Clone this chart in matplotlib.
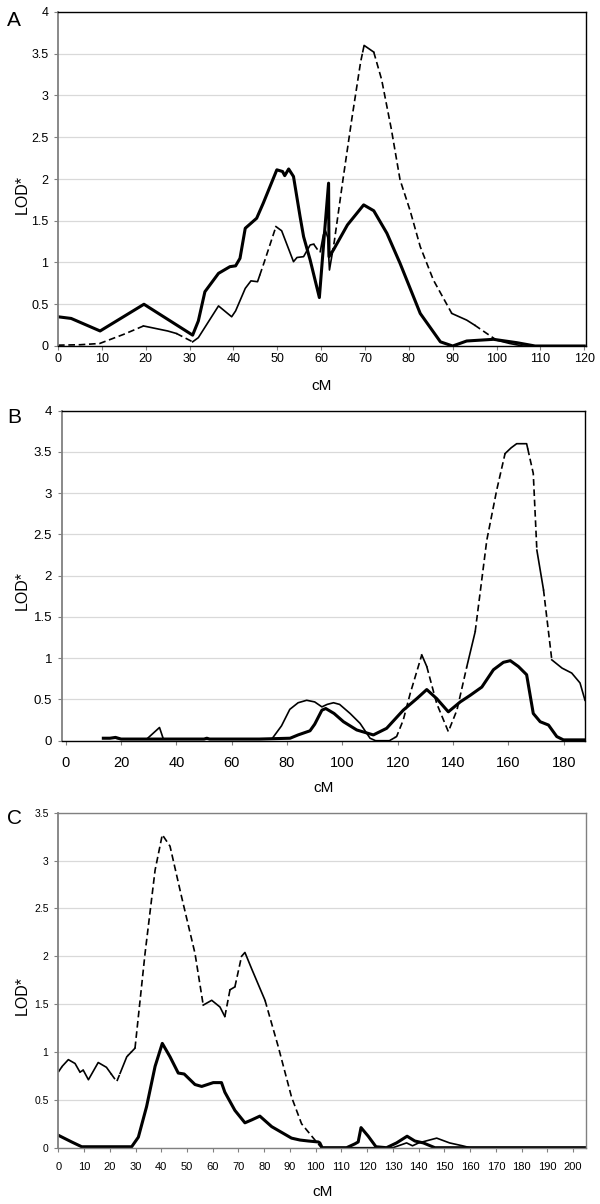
import numpy as np
import matplotlib
matplotlib.use("Agg")
import matplotlib.pyplot as plt
from matplotlib.ticker import FuncFormatter

plt.rcParams['font.family'] = ['Liberation Sans', 'DejaVu Sans']

# Panel A
a_thick_cm = [0, 3, 9.6, 19.6, 25, 30.7, 32, 33.5, 36.6, 39.2,
              40.5, 41.5, 42.7, 45.3, 46.8, 49.9, 51.2, 51.7, 52.6, 53.7,
              55.2, 56, 57.5, 59.6, 60.7, 61.7, 61.8, 62.8, 66, 69.7,
              72, 75, 78, 82.6, 87.2, 90, 93.2, 99.3, 104.6, 108.8, 120]
a_thick_lod = [0.35, 0.33, 0.18, 0.50, 0.32, 0.13, 0.3, 0.65, 0.87, 0.95,
               0.96, 1.05, 1.41, 1.53, 1.71, 2.11, 2.09, 2.04, 2.12, 2.03,
               1.55, 1.31, 1.03, 0.58, 1.31, 1.95, 1.07, 1.15, 1.45, 1.69,
               1.62, 1.35, 0.99, 0.39, 0.05, 0.0, 0.06, 0.08, 0.04, 0.0, 0.0]
a_thin_cm = [0, 5, 9.5, 15, 19.5, 25, 27, 30.7, 32, 36.6,
             39.6, 40.5, 42.7, 44, 45.5, 47, 49.7, 51, 53.7, 54.5,
             56, 57.5, 58.3, 59.1, 59.8, 60.5, 61, 61.5, 61.9, 63,
             65, 67, 69, 69.8, 72, 73.8, 76, 78, 80.3, 82.6,
             85.6, 89.8, 93.2, 95, 100, 103, 106, 120]
a_thin_lod = [0.01, 0.015, 0.03, 0.14, 0.24, 0.18, 0.15, 0.05, 0.1, 0.48,
              0.35, 0.42, 0.69, 0.78, 0.77, 1.0, 1.43, 1.38, 1.01, 1.06,
              1.07, 1.21, 1.22, 1.16, 1.13, 1.33, 1.38, 1.3, 0.91, 1.25,
              2.0, 2.72, 3.4, 3.6, 3.52, 3.19, 2.6, 1.99, 1.62, 1.19,
              0.79, 0.39, 0.31, 0.25, 0.07, 0.03, 0.0, 0.0]

# Panel B
b_thick_cm = [13.6, 16, 18, 20, 30, 50, 51, 52, 60, 70,
              81.1, 84, 88.3, 90, 92.6, 94, 97, 100.4, 105.2, 111.2,
              116, 122, 126.9, 130.5, 134.1, 138.3, 142.6, 146.2, 150.4, 154.6,
              158.2, 160.7, 163.6, 166.6, 169, 171.5, 174.5, 177.5, 179.9, 188]
b_thick_lod = [0.03, 0.03, 0.04, 0.02, 0.02, 0.02, 0.03, 0.02, 0.02, 0.02,
               0.03, 0.07, 0.12, 0.2, 0.37, 0.39, 0.33, 0.23, 0.13, 0.07,
               0.15, 0.37, 0.51, 0.62, 0.51, 0.35, 0.47, 0.55, 0.65, 0.86,
               0.95, 0.97, 0.9, 0.8, 0.33, 0.23, 0.19, 0.05, 0.01, 0.01]
b_thin_cm = [13.6, 18, 20, 29.3, 33.9, 35.3, 50, 60, 74.5, 78,
             81, 84, 87.1, 90, 92.6, 94.5, 96.8, 99, 102.8, 106.4,
             110, 112, 117, 119.6, 122, 124.5, 128.7, 130.5, 134.1, 138.3,
             141.4, 145, 148, 152.2, 155.8, 158.8, 161, 163, 166.6, 169,
             170.3, 172.7, 175.7, 179.4, 182.9, 185.9, 187.7]
b_thin_lod = [0.03, 0.03, 0.02, 0.02, 0.16, 0.02, 0.02, 0.02, 0.02, 0.18,
              0.38, 0.46, 0.49, 0.47, 0.41, 0.44, 0.46, 0.44, 0.33, 0.21,
              0.03, 0.0, 0.0, 0.05, 0.25, 0.57, 1.04, 0.9, 0.45, 0.11,
              0.37, 0.9, 1.32, 2.43, 3.04, 3.48, 3.55, 3.6, 3.6, 3.24,
              2.31, 1.83, 0.98, 0.88, 0.82, 0.7, 0.49]

# Panel C
c_thick_cm = [0, 5.2, 9.1, 20, 28.5, 31.1, 34.3, 37.6, 40.4, 43.4,
              46.6, 48.9, 53.1, 55.7, 60.2, 63.4, 64.7, 68.6, 72.5, 75.1,
              78.3, 82.9, 90.6, 93.9, 97.1, 101, 101.6, 102.5, 112, 115.2,
              116.5, 117.6, 120.4, 123.4, 127.5, 131.4, 135.5, 138.5, 141.8, 146.3, 205]
c_thick_lod = [0.13, 0.06, 0.01, 0.01, 0.01, 0.11, 0.43, 0.85, 1.09, 0.95,
               0.78, 0.77, 0.66, 0.64, 0.68, 0.68, 0.58, 0.39, 0.26, 0.29,
               0.33, 0.22, 0.1, 0.08, 0.07, 0.06, 0.05, 0.0, 0.0, 0.04,
               0.06, 0.21, 0.12, 0.01, 0.0, 0.05, 0.12, 0.07, 0.05, 0.0, 0.0]
c_thin_cm = [0, 1.5, 3.9, 6.5, 8.4, 9.7, 11.7, 15.5, 18.7, 22.7,
             26.6, 29.8, 33.7, 37.6, 40.4, 43.4, 47.9, 53.1, 56.3, 59.6,
             62.8, 64.7, 66.7, 68.6, 71.2, 72.5, 75.1, 80.3, 85.4, 90.6,
             94.5, 99.7, 102.2, 130, 135.3, 137.6, 140, 147, 152, 157, 160, 205]
c_thin_lod = [0.79, 0.85, 0.92, 0.88, 0.79, 0.81, 0.71, 0.89, 0.84, 0.69,
              0.95, 1.04, 2.03, 2.9, 3.27, 3.15, 2.62, 2.03, 1.49, 1.54,
              1.47, 1.37, 1.65, 1.68, 2.0, 2.04, 1.87, 1.54, 1.06, 0.53,
              0.25, 0.08, 0.0, 0.0, 0.05, 0.02, 0.05, 0.1, 0.05, 0.02, 0.0, 0.0]

# parts of the thin curve that are drawn dashed in the original
a_dashed = [(0, 19.5), (27, 30.7), (46, 49.7), (58.3, 59.8), (62.5, 69.5), (72, 89.8), (95, 100)]
b_dashed = [(119, 128.7), (130.5, 145), (148, 158.8), (167, 170.3), (172.7, 175.7)]
c_dashed = [(0, 1.5), (8.4, 9.7), (20.5, 24), (27, 28.5), (29.8, 56.3), (64.7, 66.7),
            (68.6, 71.2), (80.3, 102.2)]

H = 1204.0


def fy(px):
    return 1 - px / H


def draw_mixed(ax, x, y, dashed):
    x = np.asarray(x, float)
    y = np.asarray(y, float)
    cuts = sorted(set([c for r in dashed for c in r]))
    xs = np.unique(np.concatenate([x, [c for c in cuts if x[0] <= c <= x[-1]]]))
    ys = np.interp(xs, x, y)
    edges = [x[0]] + [c for c in cuts if x[0] < c < x[-1]] + [x[-1]]
    for lo, hi in zip(edges[:-1], edges[1:]):
        m = (xs >= lo) & (xs <= hi)
        mid = 0.5 * (lo + hi)
        if any(a <= mid <= b for a, b in dashed):
            ax.plot(xs[m], ys[m], color='black', lw=1.2, ls=(0, (4, 2.2)))
        else:
            ax.plot(xs[m], ys[m], color='black', lw=1.2)


fig = plt.figure(figsize=(6, 12.04), dpi=100)

panels = [
    dict(letter='A', rect=(58, 12, 586, 346), xlim=(0, 120.4), ylim=4, xticks=np.arange(0, 121, 10),
         thick=(a_thick_cm, a_thick_lod), thin=(a_thin_cm, a_thin_lod), dashed=a_dashed,
         xfs=9, yfs=9, xpad=2, cm_y=386, letter_y=20, frame='black'),
    dict(letter='B', rect=(61.7, 410.7, 585, 740.7), xlim=(-1.45, 187.7), ylim=4, xticks=np.arange(0, 181, 20),
         thick=(b_thick_cm, b_thick_lod), thin=(b_thin_cm, b_thin_lod), dashed=b_dashed,
         xfs=10.5, yfs=9.5, xpad=8, cm_y=788, letter_y=417, frame='black'),
    dict(letter='C', rect=(58.3, 812.7, 586, 1147.7), xlim=(0, 205), ylim=3.5, xticks=np.arange(0, 201, 10),
         thick=(c_thick_cm, c_thick_lod), thin=(c_thin_cm, c_thin_lod), dashed=c_dashed,
         xfs=8, yfs=7.5, xpad=7, cm_y=1192, letter_y=819, frame='#808080'),
]

for p in panels:
    x0, y0, x1, y1 = p['rect']
    ax = fig.add_axes([x0 / 600, fy(y1), (x1 - x0) / 600, (y1 - y0) / H])
    ax.set_xlim(*p['xlim'])
    ax.set_ylim(0, p['ylim'])
    ax.set_yticks(np.arange(0, p['ylim'] + 0.01, 0.5))
    ax.set_xticks(p['xticks'])
    ax.yaxis.set_major_formatter(FuncFormatter(lambda v, pos: '%g' % v))
    ax.grid(axis='y', color='#d9d9d9', lw=0.9)
    ax.set_axisbelow(True)
    for s in ax.spines.values():
        s.set_color(p['frame'])
        s.set_linewidth(1.0)
    ax.spines['left'].set_color('#808080')
    ax.spines['left'].set_linewidth(1.3)
    ax.tick_params(axis='x', length=3, width=0.8, color='#808080', labelsize=p['xfs'], pad=p['xpad'])
    ax.tick_params(axis='y', length=3, width=0.8, color='#808080', labelsize=p['yfs'], pad=4)

    draw_mixed(ax, p['thin'][0], p['thin'][1], p['dashed'])
    ax.plot(p['thick'][0], p['thick'][1], color='black', lw=2.2, solid_joinstyle='round')

    fig.text((x0 + x1) / 2 / 600, fy(p['cm_y']), 'cM', ha='center', va='center', fontsize=11)
    fig.text(22 / 600, fy((y0 + y1) / 2 + 15), 'LOD*', rotation=90, ha='center', va='center', fontsize=11.5)
    fig.text(14 / 600, fy(p['letter_y']), p['letter'], ha='center', va='center', fontsize=15)

fig.savefig('out.png', dpi=100)
